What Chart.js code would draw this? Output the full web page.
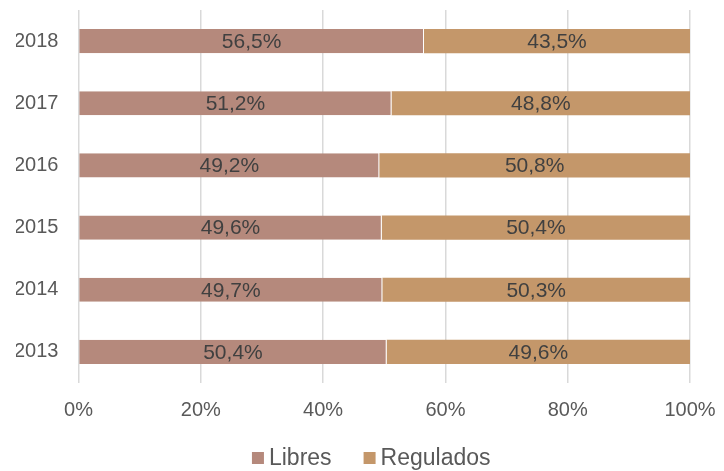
<!DOCTYPE html>
<html>
<head>
<meta charset="utf-8">
<script src="https://cdn.jsdelivr.net/npm/chart.js@4/dist/chart.umd.min.js"></script>
<style>
    html, body { margin: 0; padding: 0; background: #fff; }
    #wrap { width: 724px; height: 471px; }
</style>
</head>
<body>
<div id="wrap"><canvas id="myChart"></canvas></div>
<script>
const years = ["2018", "2017", "2016", "2015", "2014", "2013"];
const libres = [56.5, 51.2, 49.2, 49.6, 49.7, 50.4];
const regulados = [43.5, 48.8, 50.8, 50.4, 50.3, 49.6];
const xTicks = [0, 20, 40, 60, 80, 100];

Chart.defaults.font.size = 20;
Chart.defaults.font.family = "'Liberation Sans', Arial, sans-serif";
Chart.defaults.color = "#595959";

// draw the value in the middle of each bar segment
const barLabels = {
    id: "barLabels",
    afterDatasetsDraw(chart) {
        const c = chart.ctx;
        c.save();
        c.font = "21px 'Liberation Sans', Arial, sans-serif";
        c.fillStyle = "#404040";
        c.textAlign = "center";
        c.textBaseline = "middle";
        chart.data.datasets.forEach((ds, i) => {
            chart.getDatasetMeta(i).data.forEach((bar, j) => {
                const p = bar.getProps(["x", "y", "base"], true);
                const txt = ds.data[j].toFixed(1).replace(".", ",") + "%";
                c.fillText(txt, (p.x + p.base) / 2, p.y + 1);
            });
        });
        c.restore();
    },
};

// legend drawn by hand: tighter box/text gap than the built-in one
const bottomLegend = {
    id: "bottomLegend",
    afterDraw(chart) {
        const c = chart.ctx;
        const box = 12, gap = 5, spacing = 32, y = 458;
        c.save();
        c.font = "23px 'Liberation Sans', Arial, sans-serif";
        c.textBaseline = "middle";
        c.textAlign = "left";
        const items = chart.data.datasets.map((ds) => ({
            text: ds.label,
            color: ds.backgroundColor,
            w: c.measureText(ds.label).width,
        }));
        let total = items.reduce((s, it) => s + box + gap + it.w, 0) + spacing * (items.length - 1);
        let x = (chart.chartArea.left + chart.chartArea.right) / 2 - 13 - total / 2;
        items.forEach((it) => {
            c.fillStyle = it.color;
            c.fillRect(x, y - box / 2, box, box);
            c.fillStyle = "#595959";
            c.fillText(it.text, x + box + gap, y + 1);
            x += box + gap + it.w + spacing;
        });
        c.restore();
    },
};

new Chart(document.getElementById("myChart"), {
    type: "bar",
    data: {
        labels: years,
        datasets: [
            {
                label: "Libres",
                data: libres,
                backgroundColor: "#b5897c",
                borderColor: "#ffffff",
                borderWidth: { right: 1 },
                borderSkipped: false,
                barPercentage: 0.39,
                categoryPercentage: 1,
            },
            {
                label: "Regulados",
                data: regulados,
                backgroundColor: "#c4976a",
                borderWidth: 0,
                barPercentage: 0.39,
                categoryPercentage: 1,
            },
        ],
    },
    options: {
        indexAxis: "y",
        responsive: true,
        maintainAspectRatio: false,
        animation: false,
        layout: { padding: { top: 10, right: 34, left: 16, bottom: 46 } },
        scales: {
            x: {
                stacked: true,
                min: 0,
                max: 100,
                afterBuildTicks(axis) {
                    axis.ticks = xTicks.map((v) => ({ value: v }));
                },
                ticks: {
                    padding: 3,
                    callback: (v) => v + "%",
                },
                grid: {
                    color: "#d9d9d9",
                    lineWidth: 1.5,
                    drawTicks: true,
                    tickLength: 12,
                    tickColor: "transparent",
                },
                border: { display: false },
            },
            y: {
                stacked: true,
                ticks: { padding: -2 },
                grid: {
                    color: "transparent",
                    drawTicks: true,
                    tickLength: 22,
                    tickColor: "transparent",
                },
                border: { display: false },
            },
        },
        plugins: {
            legend: { display: false },
            tooltip: { enabled: false },
        },
    },
    plugins: [barLabels, bottomLegend],
});
</script>
</body>
</html>
